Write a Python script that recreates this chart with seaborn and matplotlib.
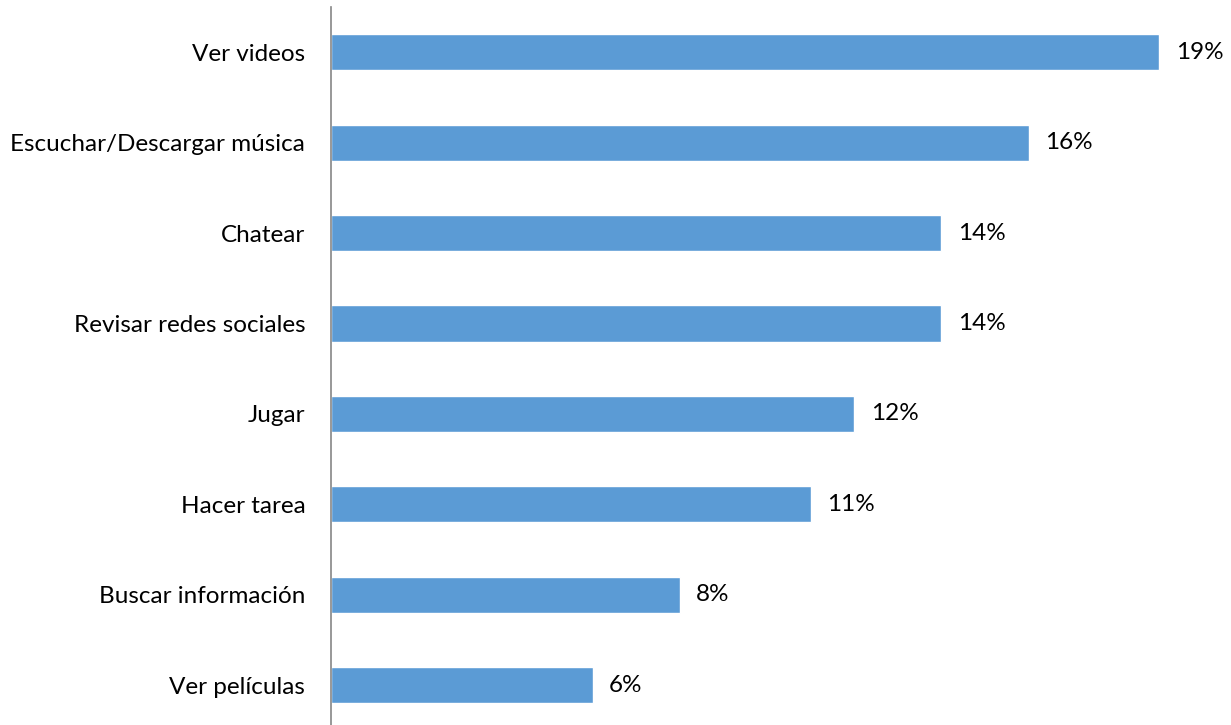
import matplotlib
matplotlib.use("Agg")
import matplotlib.pyplot as plt
import seaborn as sns
import pandas as pd

categories = [
    "Ver videos",
    "Escuchar/Descargar música",
    "Chatear",
    "Revisar redes sociales",
    "Jugar",
    "Hacer tarea",
    "Buscar información",
    "Ver películas",
]
values = [19, 16, 14, 14, 12, 11, 8, 6]

df = pd.DataFrame({"actividad": categories, "porcentaje": values})

sns.set_theme(style="white")
plt.rcParams["font.family"] = ["Lato", "DejaVu Sans"]

W, H = 1231, 725
fig = plt.figure(figsize=(W / 100, H / 100), dpi=100)
ax = fig.add_axes([331 / W, 0 / H, (W - 331) / W, (725 - 7) / H])

sns.barplot(data=df, x="porcentaje", y="actividad", orient="h",
            color="#5B9BD5", saturation=1, width=0.4, ax=ax)

ax.set_xlim(0, (W - 331) / 43.6)
ax.set_ylim(7.44, -0.5)

for i, v in enumerate(values):
    ax.text(v + 0.38, i, f"{v}%", va="center", ha="left",
            fontsize=17.5, color="#000000")

ax.set_xlabel("")
ax.set_ylabel("")
ax.set_xticks([])
ax.tick_params(axis="y", length=0, pad=18.5, labelsize=17.5, labelcolor="#000000")
for side in ["top", "right", "bottom"]:
    ax.spines[side].set_visible(False)
ax.spines["left"].set_color("#868686")
ax.spines["left"].set_linewidth(1.2)

fig.savefig("out.png", dpi=100, facecolor="white")
